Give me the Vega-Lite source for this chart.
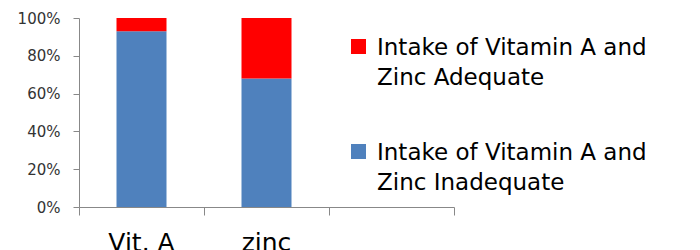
{
  "$schema": "https://vega.github.io/schema/vega-lite/v6.json",
  "autosize": {"type": "none"},
  "padding": {"left": 79, "top": 18, "right": 246, "bottom": 43},
  "width": 375,
  "height": 189,
  "background": "white",
  "config": {"view": {"stroke": null}, "font": "DejaVu Sans"},
  "layer": [
    {
      "data": {"values": [
        {"nutrient": "Vit. A", "status": "Intake of Vitamin A and Zinc Inadequate", "value": 93},
        {"nutrient": "Vit. A", "status": "Intake of Vitamin A and Zinc Adequate", "value": 7},
        {"nutrient": "zinc", "status": "Intake of Vitamin A and Zinc Inadequate", "value": 68},
        {"nutrient": "zinc", "status": "Intake of Vitamin A and Zinc Adequate", "value": 32}
      ]},
      "mark": {"type": "bar"},
      "encoding": {
        "x": {
          "field": "nutrient", "type": "nominal",
          "scale": {"domain": ["Vit. A", "zinc", " "], "paddingInner": 0.6, "paddingOuter": 0.3},
          "axis": {"title": null, "orient": "bottom", "ticks": false, "domain": true, "domainColor": "#888888", "domainWidth": 1,
                   "labelAngle": 0, "labelFontSize": 25, "labelColor": "#000000", "labelPadding": 23, "grid": false}
        },
        "y": {
          "field": "value", "type": "quantitative", "stack": "normalize",
          "scale": {"domain": [0, 1]},
          "axis": {"title": null, "format": ".0%", "values": [0, 0.2, 0.4, 0.6, 0.8, 1], "grid": false,
                   "tickSize": 6, "tickColor": "#888888", "domainColor": "#888888", "labelFontSize": 15,
                   "labelColor": "#333333", "labelPadding": 13}
        },
        "color": {
          "field": "status", "type": "nominal",
          "scale": {"domain": ["Intake of Vitamin A and Zinc Adequate", "Intake of Vitamin A and Zinc Inadequate"], "range": ["#FF0000", "#4F81BD"]},
          "legend": {
            "title": null, "orient": "none", "legendX": 268, "legendY": 17,
            "symbolType": "square", "symbolSize": 225, "symbolStrokeWidth": 0,
            "labelFontSize": 23, "labelColor": "#000000", "labelLimit": 400, "labelOffset": 7,
            "labelBaseline": "alphabetic", "rowPadding": 50,
            "labelExpr": "[slice(datum.label, 0, 23), slice(datum.label, 24)]",
            "encode": {"labels": {"update": {"lineHeight": {"value": 30}, "dy": {"value": 8}}}}
          }
        },
        "order": {"field": "status", "sort": "descending"}
      }
    },
    {
      "data": {"values": [{"edge": "e0"}, {"edge": "e1"}, {"edge": "e2"}, {"edge": "e3"}]},
      "mark": {"type": "point", "opacity": 0},
      "encoding": {
        "x": {
          "field": "edge", "type": "nominal",
          "scale": {"type": "point", "padding": 0},
          "axis": {"title": null, "orient": "bottom", "labels": false, "domain": false, "ticks": true,
                   "tickSize": 8, "tickColor": "#888888", "grid": false}
        }
      }
    }
  ],
  "resolve": {"scale": {"x": "independent"}, "axis": {"x": "independent"}}
}
